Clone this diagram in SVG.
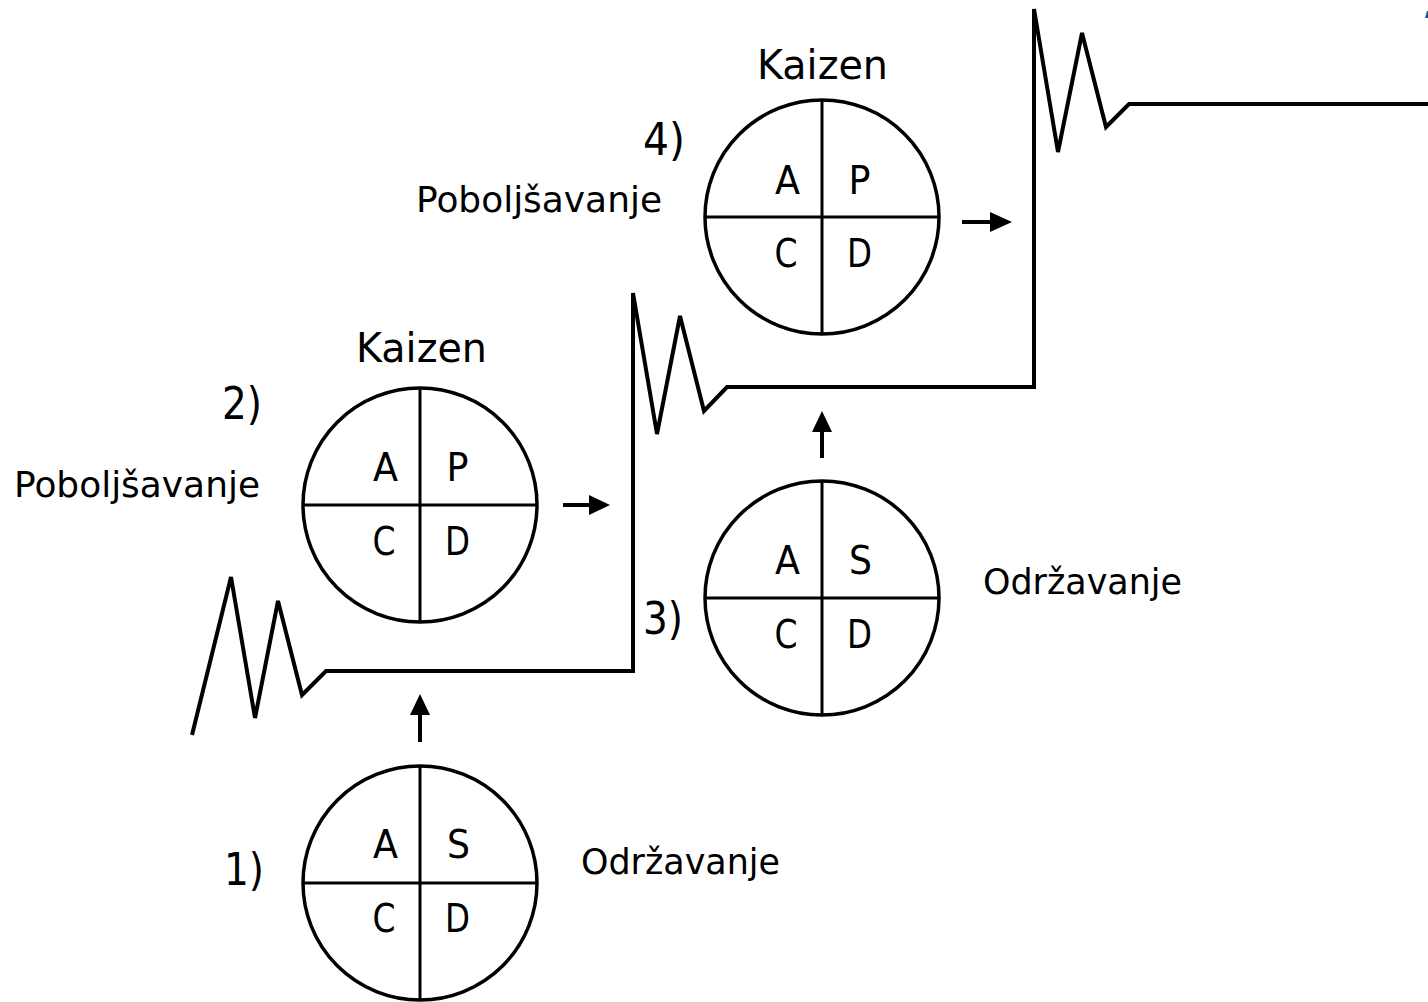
<svg xmlns="http://www.w3.org/2000/svg" width="1428" height="1002" viewBox="0 0 1428 1002">
<style>
.c{fill:none;stroke:#000;stroke-width:3.5}
.l{fill:none;stroke:#000;stroke-width:3}
.z{fill:none;stroke:#000;stroke-width:4;stroke-linejoin:miter}
.t{font-family:"DejaVu Sans","Liberation Sans",sans-serif;fill:#000}
.q{font-size:39px}
.w{font-size:36px}
.k{font-size:40px}
.n{font-size:45px}
.s{stroke:#000;stroke-width:4}
</style>
<defs>
<g id="quad"><circle class="c" cx="0" cy="0" r="117"/><line class="l" x1="-117" y1="0" x2="117" y2="0"/><line class="l" x1="0" y1="-117" x2="0" y2="117"/></g>
</defs>
<rect width="1428" height="1002" fill="#fff"/>
<g id="connectors">
<polyline class="z" points="192,735 231,577 255,718 278,601 302,695 326,671 633,671 633,293 657,434 680,316 704,411 727,387 1034,387 1034,9 1058,152 1082,33 1106,127 1129,104 1430,104"/>
<line class="s" x1="420" y1="742" x2="420" y2="712"/><path d="M410,715 L420,694 L430,715 Z"/>
<line class="s" x1="822" y1="458" x2="822" y2="429"/><path d="M812,432 L822,411 L832,432 Z"/>
<line class="s" x1="563" y1="505" x2="592" y2="505"/><path d="M589,495 L610,505 L589,515 Z"/>
<line class="s" x1="962" y1="222" x2="992" y2="222"/><path d="M990,212 L1012,222 L990,232 Z"/>
</g>
<g id="n1">
<use href="#quad" x="420" y="883"/>
<text class="t q" x="385.5" y="858" text-anchor="middle" textLength="25" lengthAdjust="spacingAndGlyphs">A</text>
<text class="t q" x="458.5" y="858" text-anchor="middle" textLength="23" lengthAdjust="spacingAndGlyphs">S</text>
<text class="t q" x="384" y="932" text-anchor="middle" textLength="23" lengthAdjust="spacingAndGlyphs">C</text>
<text class="t q" x="457.5" y="932" text-anchor="middle" textLength="25" lengthAdjust="spacingAndGlyphs">D</text>
<text class="t n" x="224" y="885" textLength="40" lengthAdjust="spacingAndGlyphs">1)</text>
<text class="t w" x="581" y="874" textLength="199" lengthAdjust="spacingAndGlyphs">Održavanje</text>
</g>
<g id="n2">
<use href="#quad" x="420" y="505"/>
<text class="t q" x="385.5" y="481" text-anchor="middle" textLength="25" lengthAdjust="spacingAndGlyphs">A</text>
<text class="t q" x="457.5" y="481" text-anchor="middle" textLength="22" lengthAdjust="spacingAndGlyphs">P</text>
<text class="t q" x="384" y="555" text-anchor="middle" textLength="23" lengthAdjust="spacingAndGlyphs">C</text>
<text class="t q" x="457.5" y="555" text-anchor="middle" textLength="25" lengthAdjust="spacingAndGlyphs">D</text>
<text class="t n" x="222" y="419" textLength="40" lengthAdjust="spacingAndGlyphs">2)</text>
<text class="t w" x="14" y="497" textLength="246" lengthAdjust="spacingAndGlyphs">Poboljšavanje</text>
<text class="t k" x="356" y="362" textLength="131" lengthAdjust="spacingAndGlyphs">Kaizen</text>
</g>
<g id="n3">
<use href="#quad" x="822" y="598"/>
<text class="t q" x="787.5" y="574" text-anchor="middle" textLength="25" lengthAdjust="spacingAndGlyphs">A</text>
<text class="t q" x="860.5" y="574" text-anchor="middle" textLength="23" lengthAdjust="spacingAndGlyphs">S</text>
<text class="t q" x="786" y="648" text-anchor="middle" textLength="23" lengthAdjust="spacingAndGlyphs">C</text>
<text class="t q" x="859.5" y="648" text-anchor="middle" textLength="25" lengthAdjust="spacingAndGlyphs">D</text>
<text class="t n" x="643" y="634" textLength="40" lengthAdjust="spacingAndGlyphs">3)</text>
<text class="t w" x="983" y="594" textLength="199" lengthAdjust="spacingAndGlyphs">Održavanje</text>
</g>
<g id="n4">
<use href="#quad" x="822" y="217"/>
<text class="t q" x="787.5" y="194" text-anchor="middle" textLength="25" lengthAdjust="spacingAndGlyphs">A</text>
<text class="t q" x="859.5" y="194" text-anchor="middle" textLength="22" lengthAdjust="spacingAndGlyphs">P</text>
<text class="t q" x="786" y="267" text-anchor="middle" textLength="23" lengthAdjust="spacingAndGlyphs">C</text>
<text class="t q" x="859.5" y="267" text-anchor="middle" textLength="25" lengthAdjust="spacingAndGlyphs">D</text>
<text class="t n" x="643" y="155" textLength="42" lengthAdjust="spacingAndGlyphs">4)</text>
<text class="t w" x="416" y="212" textLength="246" lengthAdjust="spacingAndGlyphs">Poboljšavanje</text>
<text class="t k" x="757" y="79" textLength="131" lengthAdjust="spacingAndGlyphs">Kaizen</text>
</g>
<path d="M1425,18 L1427,11 L1428,11 L1428,18 Z" fill="#2b4f8e"/>
</svg>
